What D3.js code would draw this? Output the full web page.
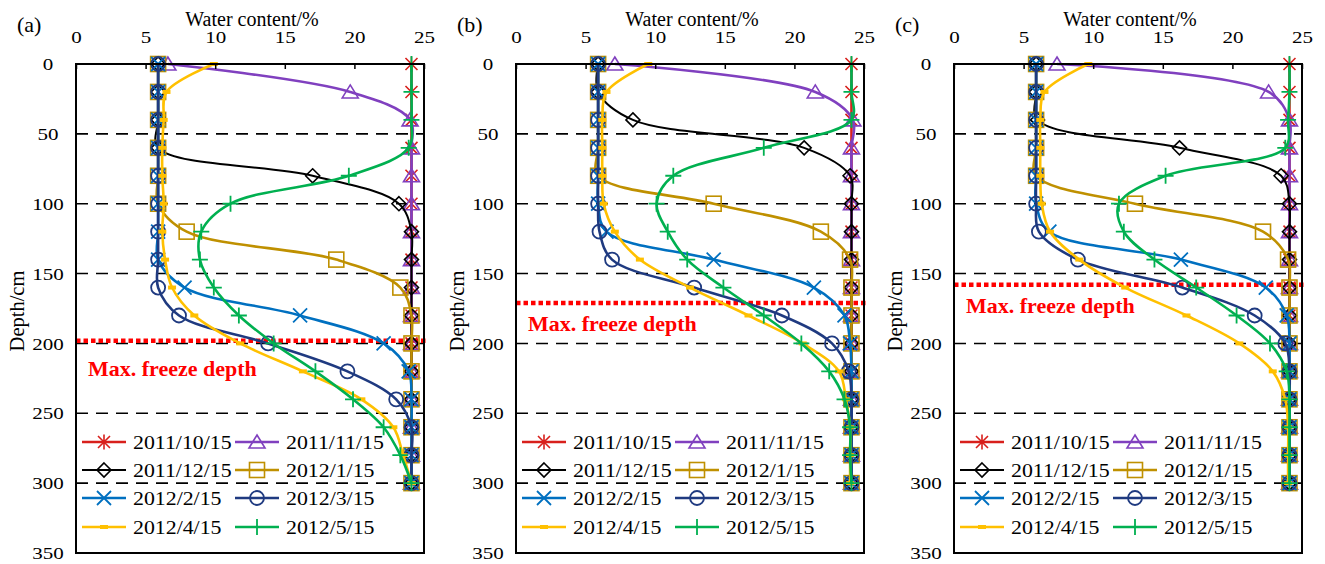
<!DOCTYPE html>
<html>
<head>
<meta charset="utf-8">
<script src="https://cdn.jsdelivr.net/npm/d3@7"></script>
<style>
body { margin: 0; background: #fff; }
text { font-family: "Liberation Serif", "Times New Roman", serif; }
</style>
</head>
<body>
<div id="chart"></div>
<script>
// depths (cm) where water content was measured
const depths = [0, 20, 40, 60, 80, 100, 120, 140, 160, 180, 200, 220, 240, 260, 280, 300];
const dates = ["2011/10/15", "2011/11/15", "2011/12/15", "2012/1/15", "2012/2/15", "2012/3/15", "2012/4/15", "2012/5/15"];
const panelLabels = ["(a)", "(b)", "(c)"];
const freezeDepths = [198, 171, 158];
const xTicks = [0, 5, 10, 15, 20, 25];
const yTicks = [0, 50, 100, 150, 200, 250, 300, 350];
const gridDepths = [50, 100, 150, 200, 250, 300];

// water content (%) per date, panel (a)
const panelA = [
    [24.1, 24.1, 24.1, 24.1, 24.1, 24.1, 24.1, 24.1, 24.1, 24.1, 24.1, 24.1, 24.1, 24.1, 24.1, 24.1],
    [6.6, 19.7, 24.0, 24.1, 24.1, 24.1, 24.1, 24.1, 24.1, 24.1, 24.1, 24.1, 24.1, 24.1, 24.1, 24.1],
    [5.9, 5.9, 5.9, 5.9, 17.0, 23.2, 24.1, 24.1, 24.1, 24.1, 24.1, 24.1, 24.1, 24.1, 24.1, 24.1],
    [5.9, 5.9, 5.9, 5.9, 5.9, 5.9, 7.95, 18.7, 23.3, 24.1, 24.1, 24.1, 24.1, 24.1, 24.1, 24.1],
    [5.9, 5.9, 5.9, 5.9, 5.9, 5.9, 5.9, 5.9, 7.8, 16.1, 22.1, 23.9, 24.1, 24.1, 24.1, 24.1],
    [5.9, 5.9, 5.9, 5.9, 5.9, 5.9, 5.9, 5.9, 5.9, 7.4, 13.8, 19.5, 23.0, 24.1, 24.1, 24.1],
    [9.9, 6.5, 6.3, 6.2, 6.2, 6.3, 6.2, 6.4, 6.9, 8.5, 11.8, 16.3, 20.5, 22.8, 23.5, 24.1],
    [24.1, 24.1, 24.1, 23.9, 19.6, 11.1, 9.0, 8.9, 9.9, 11.7, 14.2, 17.2, 19.9, 22.1, 23.3, 24.1]
];

// panel (b)
const panelB = [
    [24.1, 24.1, 24.1, 24.1, 24.1, 24.1, 24.1, 24.1, 24.1, 24.1, 24.1, 24.1, 24.1, 24.1, 24.1, 24.1],
    [7.1, 21.5, 24.2, 24.1, 24.1, 24.1, 24.1, 24.1, 24.1, 24.1, 24.1, 24.1, 24.1, 24.1, 24.1, 24.1],
    [5.9, 5.9, 8.4, 20.7, 24.0, 24.1, 24.1, 24.1, 24.1, 24.1, 24.1, 24.1, 24.1, 24.1, 24.1, 24.1],
    [5.9, 5.9, 5.9, 5.9, 5.9, 14.2, 21.9, 24.0, 24.1, 24.1, 24.1, 24.1, 24.1, 24.1, 24.1, 24.1],
    [5.9, 5.9, 5.9, 5.9, 5.9, 5.9, 6.5, 14.2, 21.4, 23.6, 24.0, 24.1, 24.1, 24.1, 24.1, 24.1],
    [5.9, 5.9, 5.9, 5.9, 5.9, 5.9, 6.0, 6.9, 12.8, 19.1, 22.7, 23.9, 24.1, 24.1, 24.1, 24.1],
    [9.5, 6.5, 6.2, 6.2, 6.2, 6.3, 7.1, 8.9, 12.5, 16.7, 20.6, 23.2, 23.7, 24.0, 24.0, 24.0],
    [24.1, 24.1, 24.1, 17.8, 11.3, 10.1, 10.9, 12.3, 14.9, 17.8, 20.5, 22.5, 23.6, 24.0, 24.0, 24.1]
];

// panel (c)
const panelC = [
    [24.1, 24.1, 24.1, 24.1, 24.1, 24.1, 24.1, 24.1, 24.1, 24.1, 24.1, 24.1, 24.1, 24.1, 24.1, 24.1],
    [7.4, 22.6, 24.1, 24.1, 24.1, 24.1, 24.1, 24.1, 24.1, 24.1, 24.1, 24.1, 24.1, 24.1, 24.1, 24.1],
    [5.9, 5.9, 6.0, 16.2, 23.5, 24.1, 24.1, 24.1, 24.1, 24.1, 24.1, 24.1, 24.1, 24.1, 24.1, 24.1],
    [5.9, 5.9, 5.9, 5.9, 5.9, 13.0, 22.2, 24.0, 24.1, 24.1, 24.1, 24.1, 24.1, 24.1, 24.1, 24.1],
    [5.9, 5.9, 5.9, 5.9, 5.9, 5.9, 6.85, 16.3, 22.4, 23.9, 24.1, 24.1, 24.1, 24.1, 24.1, 24.1],
    [5.9, 5.9, 5.9, 5.9, 5.9, 5.9, 6.1, 8.9, 16.4, 21.6, 23.8, 24.1, 24.1, 24.1, 24.1, 24.1],
    [9.65, 6.5, 6.2, 6.2, 6.2, 6.3, 6.9, 9.0, 12.3, 16.7, 20.5, 22.9, 23.8, 24.0, 24.0, 24.0],
    [24.1, 24.1, 24.0, 23.8, 15.2, 11.85, 12.2, 14.4, 17.4, 20.3, 22.7, 23.9, 24.1, 24.1, 24.1, 24.1]
];

const panels = [panelA, panelB, panelC];

// series styles
const colors = ["#d8201c", "#8040bf", "#000000", "#bf9000", "#0070c0", "#1f3a80", "#ffc000", "#00b050"];
const markers = ["asterisk", "triangle", "diamond", "square", "cross", "circle", "dash", "plus"];

const width = 1325,
    height = 564;
const plot = { top: 64, height: 489, width: 348 };
const panelLeft = [76, 516, 954];
const labelOffset = [35, 28, 28];
const numFont = 17.5,
    numStretch = 1.2;

const svg = d3.select("#chart")
    .append("svg")
    .attr("width", width)
    .attr("height", height)
    .style("background", "#fff");

// draw one marker into g
function drawMarker(g, type, color) {
    if (type === "asterisk") {
        g.append("path").attr("d", "M-6,-6L6,6M-6,6L6,-6M0,-7.5L0,7.5")
            .attr("stroke", color).attr("stroke-width", 1.6).attr("fill", "none");
    } else if (type === "triangle") {
        g.append("path").attr("d", "M0,-7L8,6L-8,6Z")
            .attr("stroke", color).attr("stroke-width", 1.6).attr("fill", "none");
    } else if (type === "diamond") {
        g.append("path").attr("d", "M0,-7L7,0L0,7L-7,0Z")
            .attr("stroke", color).attr("stroke-width", 1.6).attr("fill", "none");
    } else if (type === "square") {
        g.append("rect").attr("x", -7.5).attr("y", -7.5).attr("width", 15).attr("height", 15)
            .attr("stroke", color).attr("stroke-width", 1.6).attr("fill", "none");
    } else if (type === "cross") {
        g.append("path").attr("d", "M-7,-7L7,7M-7,7L7,-7")
            .attr("stroke", color).attr("stroke-width", 1.8).attr("fill", "none");
    } else if (type === "circle") {
        g.append("circle").attr("r", 7)
            .attr("stroke", color).attr("stroke-width", 1.8).attr("fill", "none");
    } else if (type === "dash") {
        g.append("rect").attr("x", -4).attr("y", -2).attr("width", 8).attr("height", 4)
            .attr("fill", color);
    } else if (type === "plus") {
        g.append("path").attr("d", "M-8,0L8,0M0,-8L0,8")
            .attr("stroke", color).attr("stroke-width", 1.8).attr("fill", "none");
    }
}

panels.forEach((series, p) => {
    const x0 = panelLeft[p];

    const xScale = d3.scaleLinear().domain([0, 25]).range([x0, x0 + plot.width]);
    const yScale = d3.scaleLinear().domain([0, 350]).range([plot.top, plot.top + plot.height]);

    const g = svg.append("g").attr("class", "panel");

    // dashed grid lines
    g.selectAll(".grid")
        .data(gridDepths)
        .enter()
        .append("line")
        .attr("x1", x0)
        .attr("x2", x0 + plot.width)
        .attr("y1", d => yScale(d))
        .attr("y2", d => yScale(d))
        .attr("stroke", "#000")
        .attr("stroke-width", 1.6)
        .attr("stroke-dasharray", "12,8");

    // max freeze depth
    g.append("line")
        .attr("x1", x0)
        .attr("x2", x0 + plot.width + 4)
        .attr("y1", yScale(freezeDepths[p]))
        .attr("y2", yScale(freezeDepths[p]))
        .attr("stroke", "#ff0000")
        .attr("stroke-width", 4.5)
        .attr("stroke-dasharray", "4.5,3");

    g.append("text")
        .attr("x", x0 + 12)
        .attr("y", yScale(freezeDepths[p]) + labelOffset[p])
        .attr("fill", "#ff0000")
        .attr("font-weight", "bold")
        .attr("font-size", 22)
        .text("Max. freeze depth");

    // series lines and markers
    const line = d3.line()
        .x(d => xScale(d[1]))
        .y(d => yScale(d[0]))
        .curve(d3.curveCatmullRom.alpha(0.5));

    series.forEach((vals, i) => {
        const pts = depths.map((d, k) => [d, vals[k]]);
        g.append("path")
            .datum(pts)
            .attr("d", line)
            .attr("fill", "none")
            .attr("stroke", colors[i])
            .attr("stroke-width", i === 2 ? 2 : 2.6);
        pts.forEach(pt => {
            const m = g.append("g").attr("transform", `translate(${xScale(pt[1])},${yScale(pt[0])})`);
            drawMarker(m, markers[i], colors[i]);
        });
    });

    // frame
    g.append("rect")
        .attr("x", x0)
        .attr("y", plot.top)
        .attr("width", plot.width)
        .attr("height", plot.height)
        .attr("fill", "none")
        .attr("stroke", "#000")
        .attr("stroke-width", 2);

    // top axis
    const xAxis = d3.axisTop(xScale)
        .tickValues(xTicks)
        .tickSize(-5)
        .tickSizeOuter(0)
        .tickPadding(21);
    const xg = g.append("g")
        .attr("transform", `translate(0,${plot.top})`)
        .call(xAxis);
    xg.select(".domain").remove();
    xg.selectAll("line").attr("stroke-width", 1.5);
    xg.selectAll("text")
        .attr("font-family", "Liberation Serif, Times New Roman, serif")
        .attr("font-size", numFont)
        .attr("transform", `scale(${numStretch},1)`)
        .attr("fill", "#000");

    // left axis
    const yAxis = d3.axisLeft(yScale)
        .tickValues(yTicks)
        .tickSize(0)
        .tickSizeOuter(0);
    const yg = g.append("g")
        .attr("transform", `translate(${x0},0)`)
        .call(yAxis);
    yg.select(".domain").remove();
    yg.selectAll("text")
        .attr("x", -28 / numStretch)
        .attr("text-anchor", "middle")
        .attr("transform", `scale(${numStretch},1)`)
        .attr("font-family", "Liberation Serif, Times New Roman, serif")
        .attr("font-size", numFont)
        .attr("fill", "#000");

    // titles
    g.append("text")
        .attr("x", x0 + 176)
        .attr("y", 26)
        .attr("text-anchor", "middle")
        .attr("font-size", 20)
        .text("Water content/%");

    g.append("text")
        .attr("transform", `translate(${x0 - 52},311) rotate(-90)`)
        .attr("text-anchor", "middle")
        .attr("font-size", 20.5)
        .text("Depth/cm");

    g.append("text")
        .attr("x", x0 - 59)
        .attr("y", 32)
        .attr("font-size", 22)
        .text(panelLabels[p]);

    // legend
    const legend = g.append("g")
        .attr("transform", `translate(${x0},${plot.top})`);
    const rowY = [378, 406, 434, 463];
    const colX = [6, 159];
    dates.forEach((name, i) => {
        const lx = colX[i % 2];
        const ly = rowY[Math.floor(i / 2)];
        legend.append("line")
            .attr("x1", lx)
            .attr("x2", lx + 44)
            .attr("y1", ly)
            .attr("y2", ly)
            .attr("stroke", colors[i])
            .attr("stroke-width", i === 2 ? 2 : 2.6);
        const m = legend.append("g").attr("transform", `translate(${lx + 22},${ly})`);
        drawMarker(m, markers[i], colors[i]);
        legend.append("g")
            .attr("transform", `translate(${lx + 51},${ly + 7})`)
            .append("text")
            .attr("transform", "scale(1.12,1)")
            .attr("font-size", 19.5)
            .text(name);
    });
});
</script>
</body>
</html>
